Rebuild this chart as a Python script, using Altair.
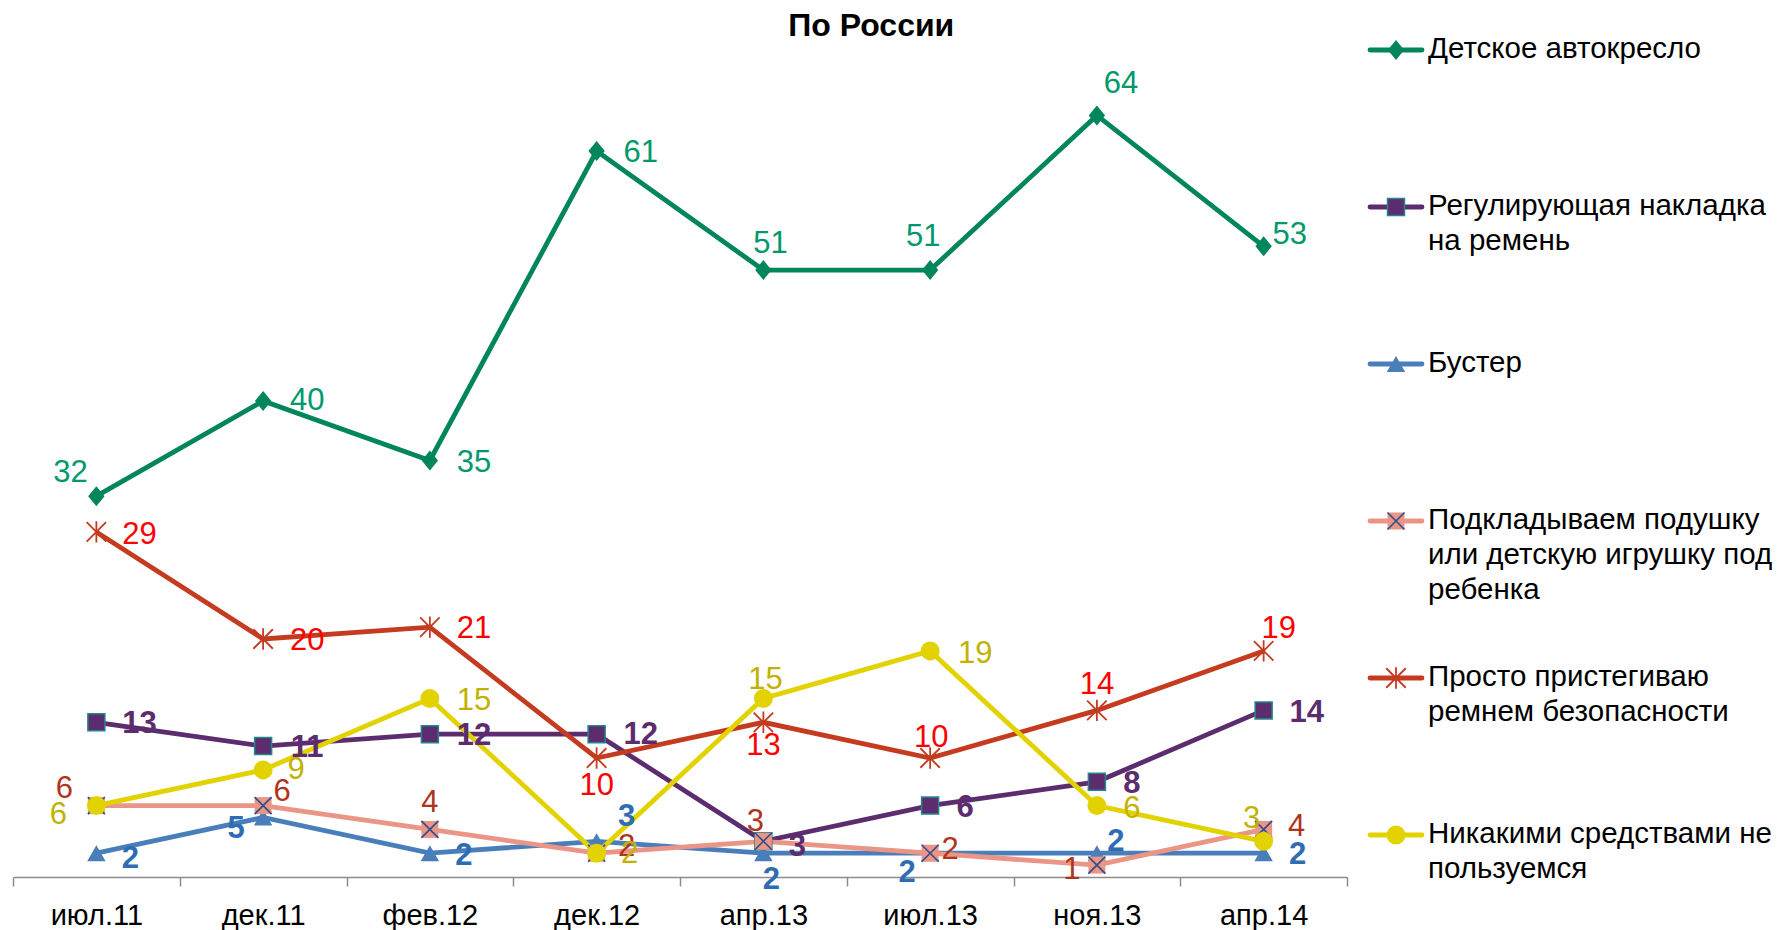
import altair as alt
import pandas as pd

# ---------------- data ----------------
DATES = ["июл.11", "дек.11", "фев.12", "дек.12", "апр.13", "июл.13", "ноя.13", "апр.14"]

SERIES = [
    "Детское автокресло",
    "Регулирующая накладка на ремень",
    "Бустер",
    "Подкладываем подушку или детскую игрушку под ребенка",
    "Просто пристегиваю ремнем безопасности",
    "Никакими средствами не пользуемся",
]
LEGEND_TEXT = [
    "Детское автокресло",
    "Регулирующая накладка\nна ремень",
    "Бустер",
    "Подкладываем подушку\nили детскую игрушку под\nребенка",
    "Просто пристегиваю\nремнем безопасности",
    "Никакими средствами не\nпользуемся",
]

CAR_SEAT = [32, 40, 35, 61, 51, 51, 64, 53]
ADJUSTER = [13, 11, 12, 12, 3, 6, 8, 14]
BOOSTER = [2, 5, 2, 3, 2, 2, 2, 2]
PILLOW = [6, 6, 4, 2, 3, 2, 1, 4]
BELT_ONLY = [29, 20, 21, 10, 13, 10, 14, 19]
NOTHING = [6, 9, 15, 2, 15, 19, 6, 3]
VALUES = [CAR_SEAT, ADJUSTER, BOOSTER, PILLOW, BELT_ONLY, NOTHING]

# label nudges (pixels) relative to each point
LABEL_DX = [
    [-26, 44, 44, 44, 7, -7, 24, 26],
    [43, 44, 44, 44, 34, 35, 35, 43],
    [34, -27, 34, 30, 8, -23, 19, 34],
    [-32, 19, 0, 30, -8, 20, -25, 33],
    [43, 44, 44, 0, 0, 1, 0, 15],
    [-38, 33, 44, 33, 2, 45, 35, -12],
]
LABEL_DY = [
    [-23, 0, 2, 2, -26, -33, -31, -11],
    [2, 2, 2, 1, 6, 2, 2, 3],
    [6, 11, 3, -24, 27, 20, -11, 2],
    [-17, -14, -26, -6, -19, -3, 5, -2],
    [3, 2, 2, 28, 24, -20, -25, -22],
    [9, 0, 2, 1, -19, 3, 3, -22],
]

# ---------------- styles ----------------
LINE_COLORS = ["#00855C", "#5B2D6E", "#4A7EBB", "#EA9585", "#C43B20", "#E2D200"]
LABEL_COLORS = ["#00986C", "#5B2D6E", "#2E6DB4", "#B0341C", "#FF0000", "#C2B200"]
LABEL_WEIGHTS = ["normal", "bold", "bold", "normal", "normal", "normal"]

DIAMOND = "M0,-1.1L0.9,0L0,1.1L-0.9,0Z"
CROSS = "M-1,-1L1,1M-1,1L1,-1"
STAR = "M-1,-1L1,1M-1,1L1,-1M0,-1.1L0,1.1"

W, H = 1334, 833
YMAX = 70
BAND = W / len(DATES)
PXU = H / YMAX
FONT = "Liberation Sans, Arial, sans-serif"

rows = []
for s, vals, dxs, dys in zip(SERIES, VALUES, LABEL_DX, LABEL_DY):
    for i, (d, v) in enumerate(zip(DATES, vals)):
        rows.append(dict(series=s, date=d, idx=i, value=v,
                         lx=i + dxs[i] / BAND, ly=v - dys[i] / PXU, label=str(v)))
df = pd.DataFrame(rows)

yscale = alt.Scale(domain=[0, YMAX], nice=False, zero=True)
xscale = alt.Scale(type="band", domain=DATES, paddingInner=0, paddingOuter=0)


def xenc(with_axis=False):
    if with_axis:
        ax = alt.Axis(title=None, labelAngle=0, tickBand="extent", tickSize=9,
                      labelFontSize=29, labelFont=FONT, labelColor="#000000",
                      labelPadding=15, domainColor="#8C8C8C", domainWidth=1.5,
                      tickColor="#8C8C8C", tickWidth=1.5, grid=False)
    else:
        ax = None
    return alt.X("date:N", scale=xscale, sort=DATES, bandPosition=0.5, axis=ax)


yenc = alt.Y("value:Q", scale=yscale, axis=None)


def marker(chart, k):
    c = LINE_COLORS[k]
    if k == 0:
        return [chart.mark_point(shape=DIAMOND, size=330, filled=True, color=c, opacity=1)]
    if k == 1:
        return [chart.mark_point(shape="square", size=289, filled=True, fill=c, stroke="#23868C",
                                 strokeWidth=1.5, opacity=1)]
    if k == 2:
        return [chart.mark_point(shape="triangle-up", size=340, filled=True, color=c, opacity=1)]
    if k == 3:
        return [chart.mark_point(shape="square", size=289, filled=True, color=c, opacity=1),
                chart.mark_point(shape=CROSS, size=289, filled=False, stroke="#2F4E8C",
                                 strokeWidth=1.6, opacity=1)]
    if k == 4:
        return [chart.mark_point(shape=STAR, size=380, filled=False, stroke=c, strokeWidth=1.8, opacity=1)]
    return [chart.mark_point(shape="circle", size=360, filled=True, color=c, opacity=1)]


base = alt.Chart(df)
layers = []
first = True
for k, s in enumerate(SERIES):
    b = base.transform_filter(alt.datum.series == s)
    layers.append(b.mark_line(color=LINE_COLORS[k], strokeWidth=4.8).encode(
        x=xenc(first), y=yenc))
    first = False

for k, s in enumerate(SERIES):
    b = base.transform_filter(alt.datum.series == s)
    for m in marker(b, k):
        layers.append(m.encode(x=xenc(), y=yenc))

lx_scale = alt.Scale(domain=[-0.5, len(DATES) - 0.5], nice=False, zero=False)
for k, s in enumerate(SERIES):
    b = base.transform_filter(alt.datum.series == s)
    layers.append(b.mark_text(fontSize=31, font=FONT, fontWeight=LABEL_WEIGHTS[k],
                              color=LABEL_COLORS[k], align="center", baseline="middle").encode(
        x=alt.X("lx:Q", scale=lx_scale, axis=None),
        y=alt.Y("ly:Q", scale=yscale, axis=None),
        text="label:N"))

main = alt.layer(*layers).resolve_scale(x="independent").properties(width=W, height=H)

# ---------------- legend panel ----------------
leg = pd.DataFrame({"series": SERIES, "idx": list(range(len(SERIES))), "text": LEGEND_TEXT})
STEP = 157
TOP = 6
lscale = alt.Scale(domain=[-TOP / STEP, (H - TOP) / STEP], reverse=True, nice=False, zero=False)
ly = alt.Y("idx:Q", scale=lscale, axis=None)
lb = alt.Chart(leg)
leg_layers = [
    lb.mark_rule(strokeWidth=4.8, strokeCap="round").encode(
        x=alt.value(2), x2=alt.value(54), y=ly,
        color=alt.Color("series:N", scale=alt.Scale(domain=SERIES, range=LINE_COLORS), legend=None)),
]
for k, s in enumerate(SERIES):
    b = lb.transform_filter(alt.datum.series == s)
    for m in marker(b, k):
        leg_layers.append(m.encode(x=alt.value(28), y=ly))
leg_layers.append(lb.mark_text(fontSize=29.5, font=FONT, color="#000000", align="left",
                               baseline="top", dy=-15, lineBreak="\n", lineHeight=35).encode(
    x=alt.value(60), y=ly, text="text:N"))
legend_panel = alt.layer(*leg_layers).properties(width=400, height=H)

chart = alt.hconcat(main, legend_panel, spacing=21, bounds="flush").properties(
    title=alt.TitleParams("По России", fontSize=32, fontWeight="bold", font=FONT,
                          color="#000000", anchor="start", align="center", dx=859, offset=-9),
    padding={"left": 4, "top": 2, "right": 0, "bottom": 0},
).configure_view(stroke=None)

chart.save("out.html", embed_options={"renderer": "svg", "actions": False})
